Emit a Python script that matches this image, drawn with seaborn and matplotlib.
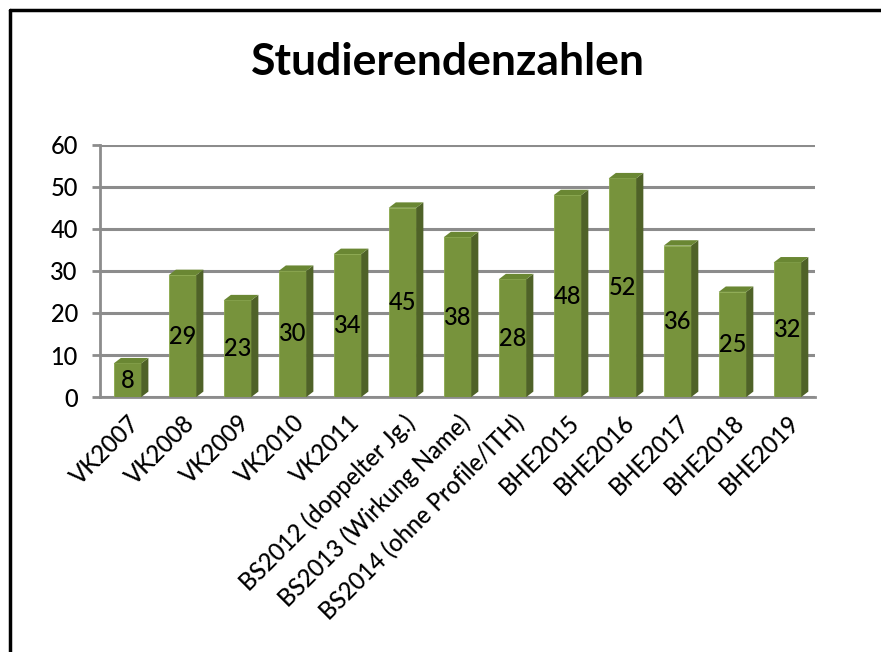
import numpy as np
import pandas as pd
import matplotlib
matplotlib.use('Agg')
import matplotlib.pyplot as plt
from matplotlib.lines import Line2D
from matplotlib.patches import Polygon
import seaborn as sns

# Daten
kategorien = ['VK2007', 'VK2008', 'VK2009', 'VK2010', 'VK2011',
              'BS2012 (doppelter Jg.)', 'BS2013 (Wirkung Name)',
              'BS2014 (ohne Profile/ITH)', 'BHE2015', 'BHE2016',
              'BHE2017', 'BHE2018', 'BHE2019']
anzahl = [8, 29, 23, 30, 34, 45, 38, 28, 48, 52, 36, 25, 32]
y_ticks = [0, 10, 20, 30, 40, 50, 60]

df = pd.DataFrame({'Jahrgang': kategorien, 'Anzahl': anzahl})

sns.set_style('white')
plt.rcParams['font.family'] = ['Lato', 'DejaVu Sans']
plt.rcParams['font.weight'] = 'medium'

grau = '#8c8c8c'
gruen = '#77933C'
gruen_seite = '#4F6228'
gruen_oben = '#6a8733'

fig = plt.figure(figsize=(8.81, 6.52), dpi=100)
ax = fig.add_axes([0.1135, 0.391, 0.8115, 0.387])

sns.barplot(data=df, x='Jahrgang', y='Anzahl', color=gruen, width=0.5,
            saturation=1, ax=ax, edgecolor='#8aa84a', linewidth=0.6, zorder=3)

# Pseudo-3D Seiten- und Deckflaechen
dx, dy = 0.13, 1.3
for p in ax.patches:
    x0 = p.get_x()
    x1 = x0 + p.get_width()
    h = p.get_height()
    seite = Polygon([(x1, 0), (x1, h), (x1 + dx, h + dy), (x1 + dx, dy)],
                    closed=True, facecolor=gruen_seite, edgecolor='none', zorder=3)
    oben = Polygon([(x0, h), (x1, h), (x1 + dx, h + dy), (x0 + dx, h + dy)],
                   closed=True, facecolor=gruen_oben, edgecolor='none', zorder=3)
    ax.add_patch(seite)
    ax.add_patch(oben)

# Datenbeschriftung
for i, v in enumerate(anzahl):
    ax.text(i, v / 2, str(v), ha='center', va='center', fontsize=17,
            color='black', zorder=4)

ax.set_ylim(0, 60)
ax.set_xlim(-0.5, len(kategorien) - 0.5)
ax.set_yticks(y_ticks)
ax.set_yticklabels([str(t) for t in y_ticks], fontsize=17, color='black')
ax.set_xticks(range(len(kategorien)))
ax.set_xticklabels(kategorien, rotation=45, ha='right', rotation_mode='anchor',
                   fontsize=17, color='black')
ax.set_xticks(np.arange(-0.5, len(kategorien)), minor=True)
ax.tick_params(axis='x', which='major', length=0, pad=10)
ax.tick_params(axis='x', which='minor', length=6, width=2, color=grau)
ax.tick_params(axis='y', length=6, width=2, color=grau, pad=10, left=True)
ax.set_xlabel('')
ax.set_ylabel('')

ax.grid(axis='y', color=grau, linewidth=2.2, zorder=0)
ax.set_axisbelow(True)
for s in ['top', 'right']:
    ax.spines[s].set_visible(False)
ax.spines['left'].set_color(grau)
ax.spines['left'].set_linewidth(2)
ax.spines['bottom'].set_color(grau)
ax.spines['bottom'].set_linewidth(2)

fig.text(0.508, 0.905, 'Studierendenzahlen', ha='center', va='center',
         fontsize=32, fontweight='bold', color='black')

# Rahmen oben und links
fig.add_artist(Line2D([0.011, 1.0], [0.984, 0.984], color='black', linewidth=2.5))
fig.add_artist(Line2D([0.011, 0.011], [0.0, 0.984], color='black', linewidth=2.5))

fig.savefig('out.png', dpi=100, facecolor='white')
